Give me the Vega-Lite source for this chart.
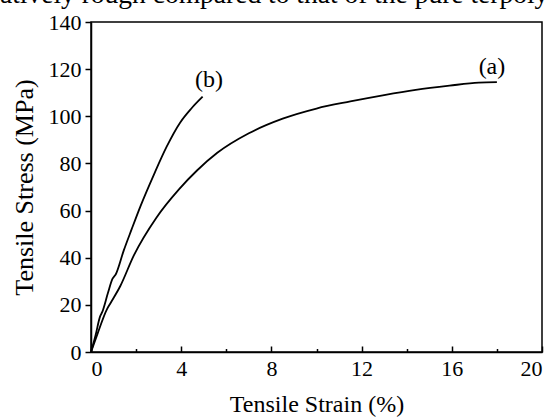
{
  "$schema": "https://vega.github.io/schema/vega-lite/v6.json",
  "autosize": "none",
  "width": 451,
  "height": 330,
  "padding": {"left": 91, "top": 22, "right": 14, "bottom": 67},
  "background": "white",
  "title": {
    "text": "atively rough compared to that of the pure terpoly",
    "anchor": "start",
    "frame": "group",
    "dx": -91,
    "dy": 19,
    "offset": 0,
    "baseline": "alphabetic",
    "font": "Liberation Serif",
    "fontSize": 27.5,
    "fontWeight": "normal",
    "color": "black"
  },
  "config": {
    "view": {"stroke": "black", "strokeWidth": 1.5},
    "axis": {
      "domainColor": "black",
      "domainWidth": 1.5,
      "tickColor": "black",
      "tickWidth": 1.5,
      "labelColor": "black",
      "titleColor": "black",
      "labelFont": "Liberation Serif",
      "titleFont": "Liberation Serif",
      "labelFontSize": 22,
      "titleFontSize": 24,
      "titleFontWeight": "normal",
      "grid": false
    }
  },
  "datasets": {
    "curves": [
      {"strain": 0, "stress": 0, "sample": "a"},
      {"strain": 0.3, "stress": 8, "sample": "a"},
      {"strain": 0.7, "stress": 18, "sample": "a"},
      {"strain": 0.85, "stress": 20.5, "sample": "a"},
      {"strain": 1.3, "stress": 28, "sample": "a"},
      {"strain": 1.9, "stress": 41, "sample": "a"},
      {"strain": 2.9, "stress": 57, "sample": "a"},
      {"strain": 3.9, "stress": 69, "sample": "a"},
      {"strain": 4.7, "stress": 77, "sample": "a"},
      {"strain": 5.6, "stress": 84.5, "sample": "a"},
      {"strain": 7.0, "stress": 92.8, "sample": "a"},
      {"strain": 8.5, "stress": 99, "sample": "a"},
      {"strain": 10.0, "stress": 103.3, "sample": "a"},
      {"strain": 11.5, "stress": 106.3, "sample": "a"},
      {"strain": 13.0, "stress": 109, "sample": "a"},
      {"strain": 14.4, "stress": 111.2, "sample": "a"},
      {"strain": 15.9, "stress": 113, "sample": "a"},
      {"strain": 17.2, "stress": 114.3, "sample": "a"},
      {"strain": 18.0, "stress": 114.5, "sample": "a"},
      {"strain": 0, "stress": 0, "sample": "b"},
      {"strain": 0.2, "stress": 7, "sample": "b"},
      {"strain": 0.4, "stress": 15, "sample": "b"},
      {"strain": 0.5, "stress": 17, "sample": "b"},
      {"strain": 0.75, "stress": 25, "sample": "b"},
      {"strain": 0.95, "stress": 31, "sample": "b"},
      {"strain": 1.1, "stress": 33, "sample": "b"},
      {"strain": 1.45, "stress": 43, "sample": "b"},
      {"strain": 1.8, "stress": 52, "sample": "b"},
      {"strain": 2.2, "stress": 62, "sample": "b"},
      {"strain": 2.8, "stress": 75.5, "sample": "b"},
      {"strain": 3.35, "stress": 87, "sample": "b"},
      {"strain": 3.95, "stress": 97.3, "sample": "b"},
      {"strain": 4.45, "stress": 103.3, "sample": "b"},
      {"strain": 4.95, "stress": 108.3, "sample": "b"}
    ],
    "labels": [
      {"strain": 5.23, "stress": 115.4, "label": "(b)"},
      {"strain": 17.78, "stress": 121, "label": "(a)"}
    ]
  },
  "layer": [
    {
      "data": {"name": "curves"},
      "mark": {"type": "line", "color": "black", "strokeWidth": 1.8, "interpolate": "monotone"},
      "encoding": {
        "x": {
          "field": "strain", "type": "quantitative",
          "scale": {"domain": [0, 20], "nice": false, "zero": false},
          "axis": {
            "title": "Tensile Strain (%)",
            "values": [0, 2, 4, 6, 8, 10, 12, 14, 16, 18, 20],
            "labelExpr": "datum.value % 4 === 0 ? datum.label : ''",
            "tickSize": {"condition": {"test": "datum.value % 4 === 0", "value": -6}, "value": -3.5},
            "labelPadding": 12,
            "titlePadding": 13
          }
        },
        "y": {
          "field": "stress", "type": "quantitative",
          "scale": {"domain": [0, 140], "nice": false},
          "axis": {
            "title": "Tensile Stress (MPa)",
            "titleFontSize": 26,
            "values": [0, 10, 20, 30, 40, 50, 60, 70, 80, 90, 100, 110, 120, 130, 140],
            "labelExpr": "datum.value % 20 === 0 ? datum.label : ''",
            "tickSize": {"condition": {"test": "datum.value % 20 === 0", "value": 6}, "value": 3.5},
            "labelPadding": 4,
            "titlePadding": 11
          }
        },
        "detail": {"field": "sample"}
      }
    },
    {
      "data": {"name": "labels"},
      "mark": {"type": "text", "font": "Liberation Serif", "fontSize": 24, "color": "black"},
      "encoding": {
        "x": {"field": "strain", "type": "quantitative"},
        "y": {"field": "stress", "type": "quantitative"},
        "text": {"field": "label"}
      }
    }
  ]
}
